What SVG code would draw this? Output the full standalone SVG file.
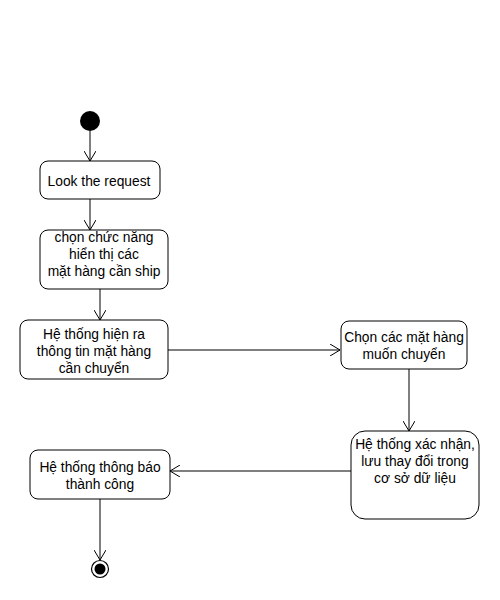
<svg xmlns="http://www.w3.org/2000/svg" width="500" height="600" viewBox="0 0 500 600">
<defs>
<style>
.box{fill:#fff;stroke:#000;stroke-width:1}
.t{font-family:"Liberation Sans",Arial,sans-serif;font-size:13.8px;fill:#000;text-anchor:middle}
.c{fill:none;stroke:#000;stroke-width:1}
</style>
<marker id="arr" markerWidth="12" markerHeight="12" refX="10" refY="6" orient="auto" markerUnits="userSpaceOnUse">
<path d="M0,0 L10,6 L0,12" fill="none" stroke="#000" stroke-width="1"/>
</marker>
</defs>
<rect width="500" height="600" fill="#fff"/>
<g id="connectors">
<line class="c" x1="90" y1="131" x2="90" y2="161" marker-end="url(#arr)"/>
<line class="c" x1="90" y1="199" x2="90" y2="230" marker-end="url(#arr)"/>
<line class="c" x1="100" y1="289" x2="100" y2="320" marker-end="url(#arr)"/>
<line class="c" x1="168" y1="350" x2="340" y2="350" marker-end="url(#arr)"/>
<line class="c" x1="409" y1="369" x2="409" y2="431" marker-end="url(#arr)"/>
<line class="c" x1="351" y1="471" x2="170" y2="471" marker-end="url(#arr)"/>
<line class="c" x1="100" y1="499" x2="100" y2="560" marker-end="url(#arr)"/>
</g>
<g id="start"><circle cx="90" cy="121" r="10" fill="#000"/></g>
<g id="n1">
<rect class="box" x="40" y="161" width="120" height="38" rx="8"/>
<text class="t" x="99" y="186">Look the request</text>
</g>
<g id="n2">
<rect class="box" x="40" y="230" width="128" height="59" rx="8"/>
<text class="t" x="104" y="242">chọn chức năng</text>
<text class="t" x="104" y="259">hiển thị các</text>
<text class="t" x="104" y="276">mặt hàng cần ship</text>
</g>
<g id="n3">
<rect class="box" x="20" y="320" width="148" height="59" rx="8"/>
<text class="t" x="94" y="339">Hệ thống hiện ra</text>
<text class="t" x="94" y="356">thông tin mặt hàng</text>
<text class="t" x="94" y="373">cần chuyển</text>
</g>
<g id="n4">
<rect class="box" x="341" y="321" width="126" height="48" rx="8"/>
<text class="t" x="404" y="342">Chọn các mặt hàng</text>
<text class="t" x="404" y="359">muốn chuyển</text>
</g>
<g id="n5">
<rect class="box" x="351" y="431" width="128" height="88" rx="14"/>
<text class="t" x="415" y="449">Hệ thống xác nhận,</text>
<text class="t" x="415" y="466">lưu thay đổi trong</text>
<text class="t" x="415" y="483">cơ sở dữ liệu</text>
</g>
<g id="n6">
<rect class="box" x="30" y="450" width="140" height="49" rx="8"/>
<text class="t" x="100" y="472">Hệ thống thông báo</text>
<text class="t" x="100" y="489">thành công</text>
</g>
<g id="end">
<circle cx="100" cy="569" r="8.5" fill="#fff" stroke="#000" stroke-width="1.2"/>
<circle cx="100" cy="569" r="5.5" fill="#000"/>
</g>
</svg>
